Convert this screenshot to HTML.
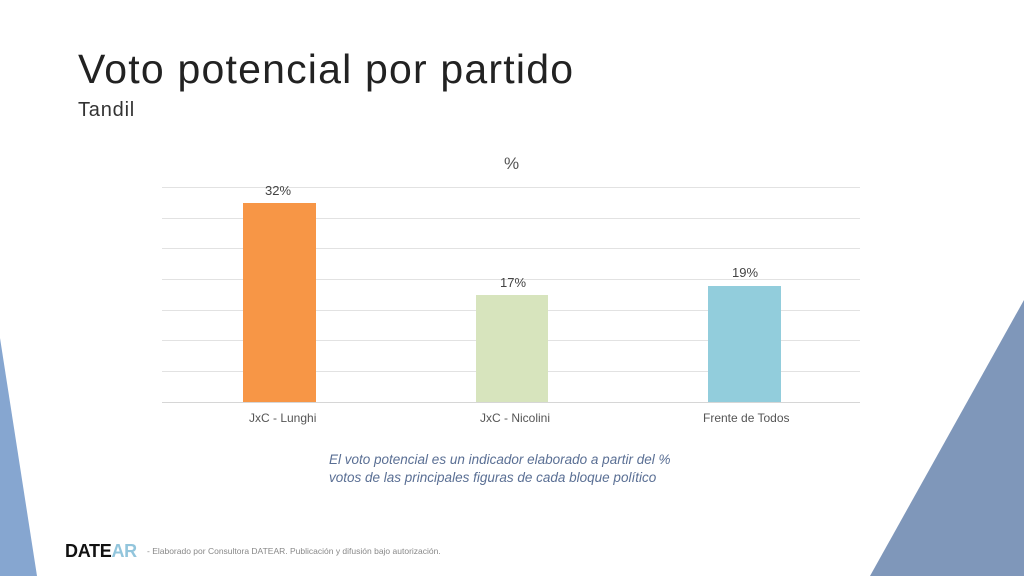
<!DOCTYPE html>
<html><head><meta charset="utf-8"><style>
html,body{margin:0;padding:0;width:1024px;height:576px;overflow:hidden;background:#fff;font-family:"Liberation Sans",sans-serif;}
.t{position:absolute;white-space:nowrap;}
</style></head><body>
<svg width="1024" height="576" style="position:absolute;left:0;top:0">
<polygon points="0,338 37,576 0,576" fill="#86a6d0"/>
<polygon points="1024,300 1024,576 870,576" fill="#7f97ba"/>
<g stroke="#e2e2e2" stroke-width="1">
<line x1="162" x2="860" y1="187.5" y2="187.5"/>
<line x1="162" x2="860" y1="218.5" y2="218.5"/>
<line x1="162" x2="860" y1="248.5" y2="248.5"/>
<line x1="162" x2="860" y1="279.5" y2="279.5"/>
<line x1="162" x2="860" y1="310.5" y2="310.5"/>
<line x1="162" x2="860" y1="340.5" y2="340.5"/>
<line x1="162" x2="860" y1="371.5" y2="371.5"/>
<line x1="162" x2="860" y1="402.5" y2="402.5" stroke="#d6d6d6"/>
</g>
<rect x="243" y="203" width="73" height="199" fill="#f79646"/>
<rect x="476" y="295" width="72" height="107" fill="#d7e4bd"/>
<rect x="708" y="286" width="73" height="116" fill="#92cddc"/>
</svg>
<div class="t" style="left:78px;top:46px;font-size:41px;color:#222;letter-spacing:1.2px">Voto potencial por partido</div>
<div class="t" style="left:78px;top:99px;font-size:20px;color:#333;letter-spacing:0.8px">Tandil</div>
<div class="t" style="left:504px;top:154px;font-size:17px;color:#555">%</div>
<div class="t" style="left:265px;top:183px;font-size:13px;color:#444">32%</div>
<div class="t" style="left:500px;top:275px;font-size:13px;color:#444">17%</div>
<div class="t" style="left:732px;top:265px;font-size:13px;color:#444">19%</div>
<div class="t" style="left:249px;top:411px;font-size:12px;color:#555">JxC - Lunghi</div>
<div class="t" style="left:480px;top:411px;font-size:12px;color:#555">JxC - Nicolini</div>
<div class="t" style="left:703px;top:411px;font-size:12px;color:#555">Frente de Todos</div>
<div class="t" style="left:329px;top:451px;font-size:13.5px;color:#5a6f94;font-style:italic;line-height:18px">El voto potencial es un indicador elaborado a partir del %<br>votos de las principales figuras de cada bloque político</div>
<div class="t" style="left:65px;top:541px;font-size:18px;font-weight:bold;color:#111;letter-spacing:-0.3px">DATE<span style="color:#92c5dc">AR</span></div>
<div class="t" style="left:147px;top:546px;font-size:8.5px;color:#888">- Elaborado por Consultora DATEAR. Publicación y difusión bajo autorización.</div>
</body></html>
